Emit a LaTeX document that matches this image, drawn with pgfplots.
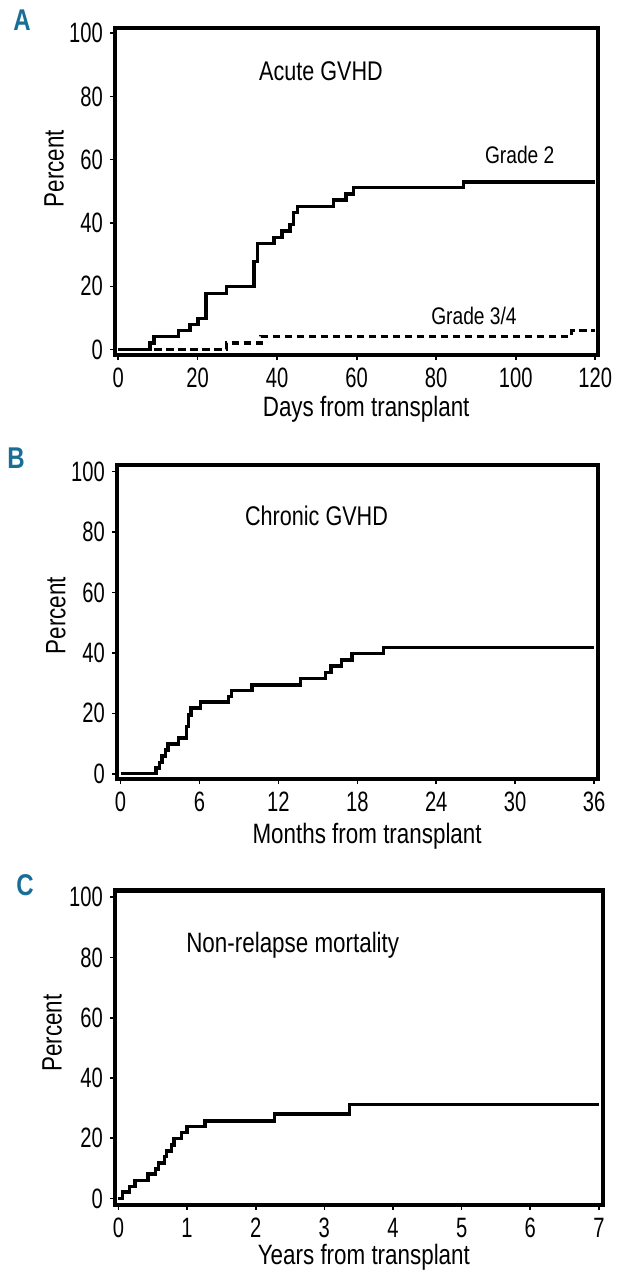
\documentclass[border=0pt]{standalone}
\usepackage{fontspec}
\setmainfont{Liberation Sans}[FakeStretch=0.8]
\newfontfamily\tickfont{Liberation Sans}[FakeStretch=0.72]
\usepackage{pgfplots}
\pgfplotsset{compat=1.18}
\definecolor{panelblue}{RGB}{25,110,150}

\pgfplotsset{
  kmstyle/.style={
    scale only axis,
    anchor=north west,
    axis line style={line width=1.7pt},
    tick align=outside,
    xtick pos=bottom, ytick pos=left,
    major tick length=2.6pt,
    tick style={line width=0.8pt, black},
    ytick={0,20,40,60,80,100},
    /pgf/number format/assume math mode=true,
    tick label style={font=\tickfont\fontsize{14}{15}\selectfont},
    xticklabel style={yshift=-0.5pt},
    label style={font=\fontsize{14}{15}\selectfont},
    ylabel={Percent},
  },
  km/.style={line width=1.7pt, black, const plot, mark=none},
}

\begin{document}
\begin{tikzpicture}
\useasboundingbox (0pt,0pt) rectangle (311.5pt,-640pt);

% A: acute GVHD
\node[font=\bfseries\fontsize{15}{16}\selectfont, text=panelblue] at (11pt,-10pt) {A};
\begin{axis}[kmstyle,
  at={(57.5pt,-14pt)}, width=241.5pt, height=163.5pt,
  xmin=-0.8, xmax=120.7, ymin=-1.7, ymax=101.6,
  xtick={0,20,40,60,80,100,120},
  xlabel={Days from transplant},
  xlabel style={at={(axis description cs:0.52,0)}, anchor=center, yshift=-27pt},
  ylabel style={at={(axis description cs:-0.126,0.57)}, anchor=center},
]
\addplot[km] coordinates {
  (0,0) (8.0,2.1) (9.0,4.2) (15.1,6.0) (18.1,8.0) (20.1,9.9) (22.1,17.8)
  (27.2,19.9) (34.2,27.8) (35.0,33.5) (39.2,35.4) (41.2,37.5) (43.2,39.5)
  (44.1,43.3) (45.1,45.2) (54.1,47.3) (57.3,49.2) (59.2,51.2) (86.9,52.9)
  (120,52.9)
};
\addplot[km, dash pattern=on 3.7pt off 2.3pt] coordinates {
  (0,0) (27.2,2.1) (35.9,4.2) (114,6.0) (120,6.0)
};
\node[font=\fontsize{13.5}{15}\selectfont] at (axis cs:51,88) {Acute GVHD};
\node[font=\fontsize{12}{13}\selectfont] at (axis cs:101,61.5) {Grade 2};
\node[font=\fontsize{12}{13}\selectfont] at (axis cs:89.5,10.7) {Grade 3/4};
\end{axis}

% B: chronic GVHD
\node[font=\bfseries\fontsize{15}{16}\selectfont, text=panelblue] at (8pt,-229pt) {B};
\begin{axis}[kmstyle,
  at={(58.5pt,-232.5pt)}, width=240.5pt, height=157pt,
  xmin=-0.27, xmax=36.3, ymin=-1.75, ymax=102.2,
  xtick={0,6,12,18,24,30,36},
  xlabel={Months from transplant},
  xlabel style={at={(axis description cs:0.52,0)}, anchor=center, yshift=-28.5pt},
  ylabel style={at={(axis description cs:-0.127,0.52)}, anchor=center},
]
\addplot[km] coordinates {
  (0,0) (2.7,1.9) (2.95,3.8) (3.15,5.9) (3.4,7.8) (3.6,9.8) (4.4,11.8)
  (5.0,15.6) (5.15,19.5) (5.35,21.7) (6.1,23.7) (8.2,25.6) (8.45,27.6)
  (10.0,29.4) (13.7,31.6) (15.6,33.6) (16.0,35.7) (16.8,37.7) (17.6,39.8)
  (20.0,41.8) (36,41.8)
};
\node[font=\fontsize{13.5}{15}\selectfont] at (axis cs:14.9,85.3) {Chronic GVHD};
\end{axis}

% C: non-relapse mortality
\node[font=\bfseries\fontsize{15}{16}\selectfont, text=panelblue] at (12.5pt,-442.5pt) {C};
\begin{axis}[kmstyle,
  at={(57.5pt,-445pt)}, width=244pt, height=157.5pt,
  xmin=-0.05, xmax=7.06, ymin=-2.2, ymax=102.4,
  xtick={0,1,2,3,4,5,6,7},
  xlabel={Years from transplant},
  xlabel style={at={(axis description cs:0.51,0)}, anchor=center, yshift=-26pt},
  ylabel style={at={(axis description cs:-0.129,0.546)}, anchor=center},
]
\addplot[km] coordinates {
  (0,0) (0.06,2.1) (0.16,3.9) (0.24,6.0) (0.43,8.1) (0.54,9.8) (0.58,11.7)
  (0.67,13.9) (0.70,15.8) (0.77,17.7) (0.81,19.8) (0.92,21.8) (1.0,23.8)
  (1.26,25.7) (2.27,28.0) (3.37,31.1) (7,31.1)
};
\draw[line width=2.6pt] (rel axis cs:0,1) -- (rel axis cs:1,1);
\node[font=\fontsize{14}{15}\selectfont] at (axis cs:2.54,84) {Non-relapse mortality};
\end{axis}
\end{tikzpicture}
\end{document}
